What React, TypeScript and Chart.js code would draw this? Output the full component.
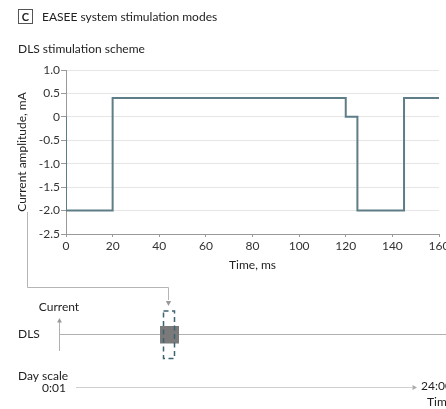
import { useEffect, useRef } from "react";
import { Chart, registerables } from "chart.js";

Chart.register(...registerables);

// DLS stimulation waveform (step pulse), time in ms, current in mA
const timeMs = [0, 0, 20, 20, 120, 120, 125, 125, 145, 145, 160];
const currentMa = [0, -2.0, -2.0, 0.4, 0.4, 0, 0, -2.0, -2.0, 0.4, 0.4];

const xMin = 0;
const xMax = 160;
const xStep = 20;
const yMin = -2.5;
const yMax = 1.0;
const yStep = 0.5;

const panelLetter = "C";
const panelTitle = "EASEE system stimulation modes";
const schemeTitle = "DLS stimulation scheme";
const xTitle = "Time, ms";
const yTitle = "Current amplitude, mA";
const dayStart = "0:01";
const dayEnd = "24:00";

const FONT = "Lato, 'Noto Sans', sans-serif";
const CANVAS_W = 520;
const CANVAS_H = 409;

function arrowHead(
  ctx: CanvasRenderingContext2D,
  x: number,
  y: number,
  dir: "up" | "down" | "right",
  size = 4
) {
  ctx.beginPath();
  if (dir === "down") {
    ctx.moveTo(x, y);
    ctx.lineTo(x - size * 0.75, y - size * 1.4);
    ctx.lineTo(x + size * 0.75, y - size * 1.4);
  } else if (dir === "up") {
    ctx.moveTo(x, y);
    ctx.lineTo(x - size * 0.75, y + size * 1.4);
    ctx.lineTo(x + size * 0.75, y + size * 1.4);
  } else {
    ctx.moveTo(x, y);
    ctx.lineTo(x - size * 1.4, y - size * 0.75);
    ctx.lineTo(x - size * 1.4, y + size * 0.75);
  }
  ctx.closePath();
  ctx.fill();
}

// Header texts and the daily schedule schematic under the waveform
const schematicPlugin = {
  id: "schematic",
  afterDraw(chart: Chart) {
    const ctx = chart.ctx;
    ctx.save();

    // panel header
    ctx.strokeStyle = "#555";
    ctx.lineWidth = 1;
    ctx.strokeRect(18.5, 9.5, 14, 14);
    ctx.fillStyle = "#222";
    ctx.font = `bold 11px ${FONT}`;
    ctx.textAlign = "center";
    ctx.textBaseline = "middle";
    ctx.fillText(panelLetter, 25.5, 17);
    ctx.font = `12px ${FONT}`;
    ctx.textAlign = "left";
    ctx.fillText(panelTitle, 42, 17);
    ctx.fillText(schemeTitle, 18, 49);

    // connector from the waveform down to the stimulation block
    ctx.strokeStyle = "#b5b5b5";
    ctx.lineWidth = 1;
    ctx.beginPath();
    ctx.moveTo(27.5, 212);
    ctx.lineTo(27.5, 287.5);
    ctx.lineTo(168.5, 287.5);
    ctx.lineTo(168.5, 300);
    ctx.stroke();
    ctx.fillStyle = "#999";
    arrowHead(ctx, 168.5, 306, "down", 3.5);

    // DLS row
    ctx.fillStyle = "#222";
    ctx.font = `12px ${FONT}`;
    ctx.textAlign = "center";
    ctx.fillText("Current", 59, 307);
    ctx.textAlign = "left";
    ctx.fillText("DLS", 18, 334);

    ctx.strokeStyle = "#b0b0b0";
    ctx.beginPath();
    ctx.moveTo(59.5, 351);
    ctx.lineTo(59.5, 322);
    ctx.moveTo(59.5, 334.5);
    ctx.lineTo(CANVAS_W, 334.5);
    ctx.stroke();
    ctx.fillStyle = "#999";
    arrowHead(ctx, 59.5, 318, "up", 3.2);

    // stimulation block and its dashed outline
    ctx.fillStyle = "#7a7a7a";
    ctx.fillRect(160, 326, 19, 17.5);
    ctx.strokeStyle = "#3c6470";
    ctx.lineWidth = 1.5;
    ctx.setLineDash([5, 3.5]);
    ctx.strokeRect(163.5, 311, 11, 47.5);
    ctx.setLineDash([]);

    // day scale
    ctx.fillStyle = "#222";
    ctx.font = `12px ${FONT}`;
    ctx.textAlign = "left";
    ctx.fillText("Day scale", 18, 376);
    ctx.textAlign = "right";
    ctx.fillText(dayStart, 66, 388);
    ctx.strokeStyle = "#cfcfcf";
    ctx.lineWidth = 1;
    ctx.beginPath();
    ctx.moveTo(76, 387.5);
    ctx.lineTo(412, 387.5);
    ctx.stroke();
    ctx.fillStyle = "#aaa";
    arrowHead(ctx, 417, 387.5, "right", 3.2);
    ctx.fillStyle = "#222";
    ctx.textAlign = "left";
    ctx.fillText(dayEnd, 421, 386);
    ctx.fillText("Time", 427, 402);

    ctx.restore();
  },
};

export default function App() {
  const canvasRef = useRef<HTMLCanvasElement | null>(null);

  useEffect(() => {
    const canvas = canvasRef.current;
    if (!canvas) return;
    const points = timeMs.map((t, i) => ({ x: t, y: currentMa[i] }));

    const chart = new Chart(canvas, {
      type: "scatter",
      data: {
        datasets: [
          {
            data: points,
            showLine: true,
            borderColor: "#5e7d86",
            borderWidth: 2,
            pointRadius: 0,
            pointHoverRadius: 0,
            tension: 0,
            fill: false,
          },
        ],
      },
      options: {
        responsive: false,
        animation: false,
        devicePixelRatio: 1,
        layout: { padding: { left: 10, top: 70, right: CANVAS_W - 439, bottom: 130 } },
        plugins: {
          legend: { display: false },
          tooltip: { enabled: false },
        },
        scales: {
          x: {
            type: "linear",
            min: xMin,
            max: xMax,
            afterFit: (scale: any) => {
              scale.height = 45;
            },
            ticks: {
              stepSize: xStep,
              color: "#333",
              padding: 2,
              font: { family: FONT, size: 12 },
              maxRotation: 0,
            },
            grid: {
              drawOnChartArea: false,
              drawTicks: true,
              tickLength: 3,
              tickColor: "#999",
            },
            border: { color: "#999", width: 1 },
            title: {
              display: true,
              text: xTitle,
              color: "#222",
              font: { family: FONT, size: 12 },
              padding: { top: 0, bottom: 7 },
            },
          },
          y: {
            type: "linear",
            min: yMin,
            max: yMax,
            afterFit: (scale: any) => {
              scale.width = 56;
            },
            ticks: {
              stepSize: yStep,
              color: "#333",
              padding: 1,
              font: { family: FONT, size: 12 },
              callback: (v: any) => (Number(v) === 0 ? "0" : Number(v).toFixed(1)),
            },
            grid: {
              color: "#e6e6e6",
              lineWidth: 1,
              drawTicks: true,
              tickLength: 5,
              tickColor: "#999",
            },
            border: { color: "#999", width: 1 },
            title: {
              display: true,
              text: yTitle,
              color: "#222",
              font: { family: FONT, size: 12 },
              padding: { top: 5, bottom: 0 },
            },
          },
        },
      },
      plugins: [schematicPlugin],
    });

    return () => chart.destroy();
  }, []);

  return (
    <div
      style={{
        position: "fixed",
        left: 0,
        top: 0,
        width: 446,
        height: 409,
        overflow: "hidden",
        background: "#fff",
      }}
    >
      <canvas
        ref={canvasRef}
        width={CANVAS_W}
        height={CANVAS_H}
        style={{ display: "block", width: CANVAS_W, height: CANVAS_H }}
      />
    </div>
  );
}
